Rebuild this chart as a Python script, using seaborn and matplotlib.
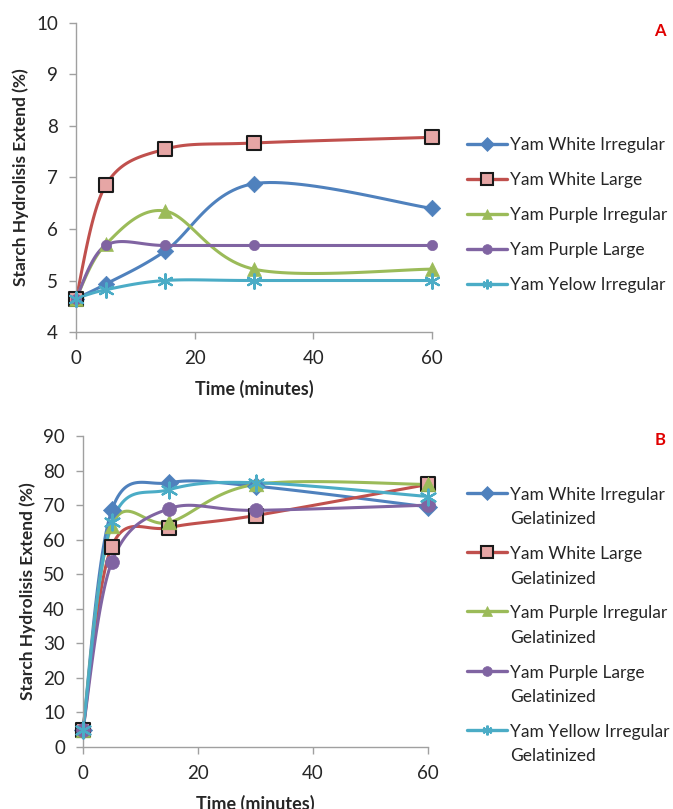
import numpy as np
import matplotlib
matplotlib.use("Agg")
import matplotlib.pyplot as plt
import seaborn as sns
from matplotlib.lines import Line2D

sns.set_style("white")
plt.rcParams['font.family'] = ['Lato', 'DejaVu Sans']

time = [0, 5, 15, 30, 60]

names_a = ["Yam White Irregular", "Yam White Large", "Yam Purple Irregular",
           "Yam Purple Large", "Yam Yelow Irregular"]
white_irr_a = [4.65, 4.93, 5.57, 6.88, 6.40]
white_large_a = [4.65, 6.85, 7.55, 7.67, 7.78]
purple_irr_a = [4.65, 5.70, 6.35, 5.22, 5.22]
purple_large_a = [4.65, 5.68, 5.68, 5.68, 5.68]
yellow_irr_a = [4.65, 4.82, 5.00, 5.00, 5.00]

names_b = ["Yam White Irregular\nGelatinized", "Yam White Large\nGelatinized",
           "Yam Purple Irregular\nGelatinized", "Yam Purple Large\nGelatinized",
           "Yam Yellow Irregular\nGelatinized"]
white_irr_b = [5.0, 68.5, 76.5, 75.5, 69.5]
white_large_b = [5.0, 58.0, 63.5, 67.0, 76.0]
purple_irr_b = [5.0, 64.0, 65.0, 76.0, 76.0]
purple_large_b = [5.0, 53.5, 69.0, 68.5, 70.0]
yellow_irr_b = [5.0, 65.0, 74.5, 76.5, 72.5]

colors = ["#4F81BD", "#C0504D", "#9BBB59", "#8064A2", "#4BACC6"]
markers = ["D", "s", "^", "o", (6, 2, 0)]


def smooth(x, y, n=30):
    # Excel-like smoothed line: cubic Bezier with Catmull-Rom control points
    x = np.asarray(x, float); y = np.asarray(y, float)
    P = np.column_stack([x, y])
    pts = []
    for i in range(len(P) - 1):
        p0 = P[i - 1] if i > 0 else P[i]
        p1 = P[i]; p2 = P[i + 1]
        p3 = P[i + 2] if i + 2 < len(P) else P[i + 1]
        c1 = p1 + (p2 - p0) / 6.0
        c2 = p2 - (p3 - p1) / 6.0
        t = np.linspace(0, 1, n)[:, None]
        seg = ((1 - t) ** 3) * p1 + 3 * ((1 - t) ** 2) * t * c1 + 3 * (1 - t) * t ** 2 * c2 + t ** 3 * p2
        pts.append(seg if i == 0 else seg[1:])
    s = np.vstack(pts)
    return s[:, 0], s[:, 1]


def draw(ax, series, names, msizes, leg_loc, ylim, yticks, spacing, twoline):
    handles = []
    for vals, c, m, name, ms in zip(series, colors, markers, names, msizes):
        sx, sy = smooth(time, vals)
        sns.lineplot(x=sx, y=sy, color=c, lw=2.2, ax=ax, sort=False,
                     estimator=None, legend=False)
        if m == "s":
            fc, ec, lw = "#E6A6A5", "#1a1a1a", 1.5
        elif m == (6, 2, 0):
            fc, ec, lw = c, c, 1.6
        else:
            fc, ec, lw = c, c, 0.5
        sns.scatterplot(x=time, y=vals, marker=m, s=ms, color=fc,
                        edgecolor=ec, linewidth=lw, ax=ax, legend=False,
                        zorder=5)
        handles.append(Line2D([0], [0], color=c, lw=2.4, marker=m,
                              markersize=8 if m == "s" else 7,
                              markerfacecolor=fc, markeredgecolor=ec,
                              markeredgewidth=lw if m != "D" else 0.5, label=name))
    for coll in ax.collections:
        coll.set_clip_on(False)
    for ln in ax.lines:
        ln.set_clip_on(False)
    ax.set_xlim(0, 60)
    ax.set_ylim(*ylim)
    ax.set_xticks([0, 20, 40, 60])
    ax.set_yticks(yticks)
    ax.tick_params(axis="both", labelsize=13.5, length=5, width=1,
                   color="#a0a0a0", direction="out", left=True, bottom=True)
    ax.tick_params(axis="x", pad=8)
    ax.tick_params(axis="y", pad=8)
    for sp in ["top", "right"]:
        ax.spines[sp].set_visible(False)
    for sp in ["left", "bottom"]:
        ax.spines[sp].set_color("#a0a0a0")
        ax.spines[sp].set_linewidth(1)
    ax.set_xlabel("Time (minutes)", fontsize=13, fontweight="bold", labelpad=9)
    ax.set_ylabel("Starch Hydrolisis Extend (%)", fontsize=12.5,
                  fontweight="bold", labelpad=5)
    leg = ax.legend(handles=handles, loc="upper left", bbox_to_anchor=leg_loc,
                    bbox_transform=ax.figure.transFigure, frameon=False,
                    fontsize=12.5, handlelength=2.3, handletextpad=0.2,
                    labelspacing=spacing, borderaxespad=0, borderpad=0)
    if twoline:
        for t in leg.get_texts():
            t.set_linespacing(1.65)
        for col in leg._legend_handle_box.get_children():
            for hp in col.get_children():
                hp.align = "top"
    return leg


fig = plt.figure(figsize=(6.73, 8.09), dpi=100)
axA = fig.add_axes([0.113, 0.5896, 0.529, 0.382])
axB = fig.add_axes([0.1233, 0.0766, 0.5127, 0.3844])

draw(axA, [white_irr_a, white_large_a, purple_irr_a, purple_large_a, yellow_irr_a],
     names_a, [70, 95, 100, 55, 110], (0.694, 0.831), (4, 10), range(4, 11), 1.1, False)
draw(axB, [white_irr_b, white_large_b, purple_irr_b, purple_large_b, yellow_irr_b],
     names_b, [85, 110, 110, 100, 130], (0.694, 0.398), (0, 90), range(0, 91, 10), 1.08, True)

fig.text(0.981, 0.962, "A", color="#E00000", fontsize=12, fontweight="bold",
         ha="center", va="center")
fig.text(0.981, 0.456, "B", color="#E00000", fontsize=12, fontweight="bold",
         ha="center", va="center")

fig.savefig("out.png", dpi=100)
